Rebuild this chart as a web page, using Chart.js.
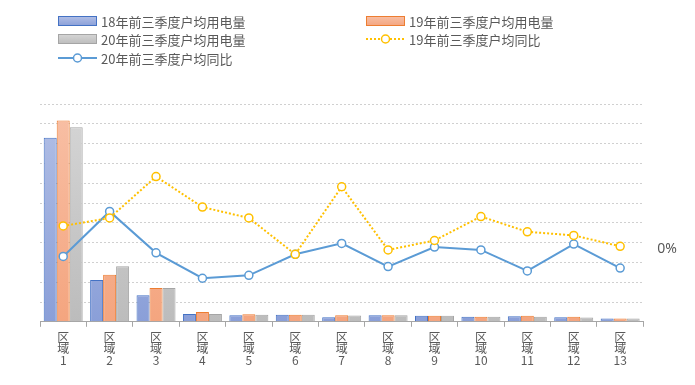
<!DOCTYPE html>
<html>
<head>
<meta charset="utf-8">
<script src="https://cdn.jsdelivr.net/npm/chart.js@4"></script>
<style>
  html, body { margin: 0; padding: 0; background: #fff; }
  #wrap { position: relative; width: 695px; height: 385px; }
  #legend { position: absolute; left: 0; top: 0; width: 695px; height: 70px;
    font-family: "Noto Sans CJK SC", "Noto Sans", sans-serif; font-size: 13px; color: #595959; }
  .item { position: absolute; display: flex; align-items: center; height: 18px; white-space: nowrap; }
  .item canvas { margin-right: 4px; }
</style>
</head>
<body>
<div id="wrap">
  <canvas id="chart" width="695" height="385"></canvas>
  <div id="legend"></div>
</div>
<script>
// data (left axis has no labels, so units are relative)
const categories = ['区域1','区域2','区域3','区域4','区域5','区域6','区域7','区域8','区域9','区域10','区域11','区域12','区域13'];
const usage18 = [9290, 2110, 1340, 400, 330, 350, 230, 330, 300, 250, 280, 230, 170];
const usage19 = [10170, 2380, 1710, 500, 380, 350, 330, 330, 300, 250, 300, 250, 170];
const usage20 = [9830, 2800, 1710, 400, 350, 350, 320, 330, 300, 250, 250, 220, 170];
// year-on-year change, percent
const yoy19 = [3.2, 4.3, 10.0, 5.8, 4.3, -0.7, 8.6, -0.1, 1.2, 4.5, 2.4, 1.9, 0.4];
const yoy20 = [-1.0, 5.2, -0.5, -4.0, -3.6, -0.7, 0.8, -2.4, 0.3, -0.1, -3.0, 0.7, -2.6];

const names = ['18年前三季度户均用电量', '19年前三季度户均用电量', '20年前三季度户均用电量',
  '19年前三季度户均同比', '20年前三季度户均同比'];

// x labels drawn as stacked characters, like the vertical text in the original
const tickLabels = categories.map(c => ['区', '域', c.slice(2)]);

function grad(top, bottom) {
  return (ctx) => {
    const area = ctx.chart.chartArea;
    if (!area) return bottom;
    const g = ctx.chart.ctx.createLinearGradient(0, area.top, 0, area.bottom);
    g.addColorStop(0, top);
    g.addColorStop(1, bottom);
    return g;
  };
}

const barCols = [['#b3c0e6', '#8a9fd8'], ['#f8c0a6', '#f4a57f'], ['#d6d6d6', '#bcbcbc']];
const barBorders = ['#4472c4', '#ed7d31', '#a5a5a5'];

const ctx = document.getElementById('chart').getContext('2d');
const chart = new Chart(ctx, {
  type: 'bar',
  data: {
    labels: tickLabels,
    datasets: [
      { type: 'line', label: names[3], data: yoy19, yAxisID: 'y1', order: 0,
        borderColor: '#ffc000', borderWidth: 2, borderDash: [2, 2],
        pointRadius: 4, pointBorderWidth: 1.5, pointBackgroundColor: '#fff', pointBorderColor: '#ffc000',
        tension: 0 },
      { type: 'line', label: names[4], data: yoy20, yAxisID: 'y1', order: 0,
        borderColor: '#5b9bd5', borderWidth: 2,
        pointRadius: 4, pointBorderWidth: 1.5, pointBackgroundColor: '#fff', pointBorderColor: '#5b9bd5',
        tension: 0 },
      { label: names[0], data: usage18, yAxisID: 'y', order: 1,
        backgroundColor: grad(...barCols[0]), borderColor: barBorders[0], borderWidth: 1 },
      { label: names[1], data: usage19, yAxisID: 'y', order: 1,
        backgroundColor: grad(...barCols[1]), borderColor: barBorders[1], borderWidth: 1 },
      { label: names[2], data: usage20, yAxisID: 'y', order: 1,
        backgroundColor: grad(...barCols[2]), borderColor: barBorders[2], borderWidth: 1 }
    ]
  },
  options: {
    responsive: false,
    animation: false,
    datasets: { bar: { categoryPercentage: 0.84, barPercentage: 1.0 } },
    layout: { padding: { left: 40, right: 4, top: 104, bottom: 14 } },
    plugins: {
      legend: { display: false },
      tooltip: { enabled: false }
    },
    scales: {
      x: {
        grid: { offset: true, drawOnChartArea: false, drawTicks: true, tickLength: 5, color: '#a6a6a6' },
        border: { display: true, color: '#a6a6a6' },
        ticks: {
          maxRotation: 0, minRotation: 0, padding: 5, color: '#595959',
          font: { family: '"Noto Sans CJK SC", sans-serif', size: 12, lineHeight: 0.95 }
        }
      },
      y: {
        min: 0, max: 11000,
        ticks: { display: false, stepSize: 1000 },
        grid: { color: '#d0d0d0', drawTicks: false },
        border: { display: false, dash: [2, 2] }
      },
      y1: {
        position: 'right',
        min: -10, max: 20,
        grid: { drawOnChartArea: false, drawTicks: false },
        border: { display: false },
        ticks: {
          stepSize: 10, padding: 14, color: '#595959',
          font: { family: '"Noto Sans", sans-serif', size: 14 },
          callback: (v) => v === 0 ? '0%' : ''
        }
      }
    }
  }
});

// HTML legend in two columns, built from the datasets
const legendEl = document.getElementById('legend');
const slots = [
  { ds: 2, x: 58, y: 12 }, { ds: 3, x: 366, y: 12 },
  { ds: 4, x: 58, y: 30 }, { ds: 0, x: 366, y: 30 },
  { ds: 1, x: 58, y: 49 }
];
slots.forEach(s => {
  const d = chart.data.datasets[s.ds];
  const item = document.createElement('div');
  item.className = 'item';
  item.style.left = s.x + 'px';
  item.style.top = s.y + 'px';
  const c = document.createElement('canvas');
  c.width = 39; c.height = 12;
  const g = c.getContext('2d');
  if (d.type === 'line') {
    g.strokeStyle = d.borderColor;
    g.lineWidth = 2;
    g.setLineDash(d.borderDash || []);
    g.beginPath(); g.moveTo(0, 6); g.lineTo(39, 6); g.stroke();
    g.setLineDash([]);
    g.lineWidth = 1.5;
    g.fillStyle = '#fff';
    g.beginPath(); g.arc(19.5, 6, 4, 0, Math.PI * 2); g.fill(); g.stroke();
  } else {
    const cols = barCols[s.ds - 2];
    const lg = g.createLinearGradient(0, 1, 0, 11);
    lg.addColorStop(0, cols[0]); lg.addColorStop(1, cols[1]);
    g.fillStyle = lg;
    g.fillRect(0.5, 1.5, 38, 9);
    g.strokeStyle = d.borderColor;
    g.lineWidth = 1;
    g.strokeRect(0.5, 1.5, 38, 9);
  }
  item.appendChild(c);
  const t = document.createElement('span');
  t.textContent = d.label;
  item.appendChild(t);
  legendEl.appendChild(item);
});
</script>
</body>
</html>
